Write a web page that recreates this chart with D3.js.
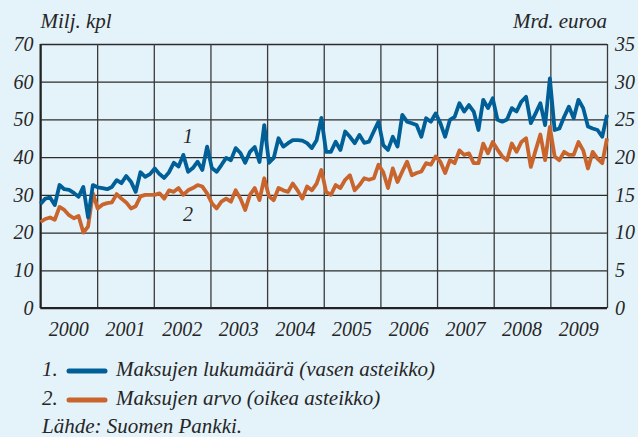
<!DOCTYPE html>
<html>
<head>
<meta charset="utf-8">
<script src="https://cdn.jsdelivr.net/npm/d3@7"></script>
<style>
  html, body { margin: 0; padding: 0; background: #e4f2fa; }
  svg { display: block; }
  text { font-family: "Liberation Serif", "DejaVu Serif", serif; font-style: italic; fill: #262626; }
</style>
</head>
<body>
<div id="chart"></div>
<script>
// Years on the x axis (monthly data, Jan 2000 - Dec 2009)
const years = [2000, 2001, 2002, 2003, 2004, 2005, 2006, 2007, 2008, 2009];
const leftTicks = [0, 10, 20, 30, 40, 50, 60, 70];
const rightTicks = [0, 5, 10, 15, 20, 25, 30, 35];

// 1. Maksujen lukumäärä, milj. kpl (left scale)
const paymentCount = [
  27.6, 29.0, 29.3, 27.3, 32.6, 31.5, 31.3, 30.5, 29.5, 32.1, 24.0, 32.6,
  32.0, 31.8, 31.5, 32.1, 33.9, 33.1, 35.0, 33.5, 30.8, 36.0, 34.8, 35.5,
  37.0, 35.5, 34.5, 36.0, 38.5, 37.5, 40.6, 36.1, 37.1, 38.8, 36.6, 42.8,
  37.1, 36.1, 37.9, 39.8, 39.2, 42.4, 41.1, 38.5, 41.4, 42.7, 38.7, 48.5,
  38.5, 39.8, 45.0, 42.8, 43.7, 44.5, 44.5, 44.4, 43.7, 42.4, 44.5, 50.4,
  41.4, 41.4, 44.1, 41.9, 46.8, 45.4, 43.7, 45.9, 43.8, 44.1, 46.8, 49.4,
  43.2, 41.9, 45.4, 42.8, 51.2, 49.4, 49.0, 48.5, 45.4, 50.3, 49.4, 51.6,
  49.0, 45.4, 49.9, 50.7, 54.3, 52.1, 53.8, 52.1, 47.2, 55.2, 53.0, 55.6,
  49.9, 49.4, 50.0, 53.0, 52.1, 54.7, 56.0, 49.0, 51.6, 54.3, 48.5, 60.9,
  47.2, 47.6, 50.7, 53.4, 50.3, 55.2, 53.0, 48.1, 47.6, 47.2, 45.4, 51.2
];

// 2. Maksujen arvo, mrd. euroa (right scale)
const paymentValue = [
  11.4, 11.8, 12.0, 11.7, 13.4, 13.0, 12.3, 11.9, 12.2, 10.0, 10.8, 15.2,
  13.2, 13.7, 13.9, 14.0, 15.1, 14.5, 14.0, 13.2, 13.5, 14.8, 15.0, 15.0,
  15.0, 15.2, 14.5, 15.6, 15.4, 15.9, 15.0, 15.6, 15.9, 16.3, 16.1, 15.2,
  13.9, 13.2, 14.1, 14.5, 14.1, 15.6, 14.5, 13.0, 15.0, 15.9, 14.3, 17.2,
  14.8, 14.3, 15.9, 15.6, 15.4, 16.5, 15.6, 14.5, 16.1, 15.6, 16.5, 18.3,
  15.4, 15.0, 16.3, 15.9, 17.0, 17.6, 15.6, 16.3, 17.2, 17.0, 17.2, 19.0,
  18.0, 15.9, 18.5, 16.7, 18.1, 19.4, 17.6, 17.9, 18.1, 19.2, 19.0, 20.1,
  19.4, 17.9, 19.6, 19.2, 20.9, 20.3, 20.5, 19.2, 19.2, 21.8, 20.5, 22.0,
  21.0, 20.1, 19.6, 21.8, 20.7, 22.0, 22.5, 18.7, 20.9, 23.0, 19.6, 24.0,
  20.1, 19.6, 20.7, 20.3, 20.3, 22.0, 20.9, 18.5, 20.7, 19.8, 19.2, 22.5
];

const legendLabels = [
  "Maksujen lukumäärä (vasen asteikko)",
  "Maksujen arvo (oikea asteikko)"
];

const BLUE = "#005f97";
const ORANGE = "#c9652c";

const width = 638, height = 437;
const margin = { top: 44, right: 31, bottom: 129, left: 40.5 };
const x0 = margin.left, x1 = width - margin.right;
const yTop = margin.top, yBottom = height - margin.bottom;

const svg = d3.select("#chart").append("svg")
  .attr("width", width)
  .attr("height", height);

svg.append("rect")
  .attr("width", width).attr("height", height)
  .attr("fill", "#e4f2fa");

// month keys, one per data point
const monthKeys = years.flatMap(y => d3.range(12).map(m => `${y}-${m + 1}`));

const x = d3.scalePoint().domain(monthKeys).range([x0, x1]);
const xYear = d3.scaleLinear().domain([years[0], years[years.length - 1] + 1]).range([x0, x1]);
const yLeft = d3.scaleLinear().domain([0, 70]).range([yBottom, yTop]);
const yRight = d3.scaleLinear().domain([0, 35]).range([yBottom, yTop]);

// Horizontal grid
svg.append("g")
  .attr("class", "grid-h")
  .attr("transform", `translate(${x0},0)`)
  .call(d3.axisLeft(yLeft).tickValues(leftTicks).tickSize(-(x1 - x0)).tickFormat(""))
  .call(g => g.select(".domain").remove())
  .call(g => g.selectAll("line").attr("stroke", "#2b2b2b").attr("stroke-width", 1.3));

// Vertical year grid
const yearEdges = d3.range(years[0], years[years.length - 1] + 2);
svg.append("g")
  .attr("class", "grid-v")
  .attr("transform", `translate(0,${yBottom})`)
  .call(d3.axisBottom(xYear).tickValues(yearEdges).tickSize(-(yBottom - yTop)).tickFormat(""))
  .call(g => g.select(".domain").remove())
  .call(g => g.selectAll("line").attr("stroke", "#3a3a3a").attr("stroke-width", 1.3));

// Frame: left and bottom slightly heavier
svg.append("line")
  .attr("x1", x0).attr("x2", x0).attr("y1", yTop).attr("y2", yBottom)
  .attr("stroke", "#222").attr("stroke-width", 2);
svg.append("line")
  .attr("x1", x0).attr("x2", x1).attr("y1", yBottom).attr("y2", yBottom)
  .attr("stroke", "#222").attr("stroke-width", 2);

// Left tick labels
svg.append("g")
  .attr("transform", `translate(${x0 - 7},0)`)
  .call(d3.axisLeft(yLeft).tickValues(leftTicks).tickSize(0).tickPadding(0))
  .call(g => g.select(".domain").remove())
  .call(g => g.selectAll("text")
    .attr("font-family", "Liberation Serif, serif")
    .attr("font-style", "italic")
    .attr("font-size", 20)
    .attr("fill", "#2a2a2a"));

// Right tick labels
svg.append("g")
  .attr("transform", `translate(${x1 + 8},0)`)
  .call(d3.axisRight(yRight).tickValues(rightTicks).tickSize(0).tickPadding(0))
  .call(g => g.select(".domain").remove())
  .call(g => g.selectAll("text")
    .attr("font-family", "Liberation Serif, serif")
    .attr("font-style", "italic")
    .attr("font-size", 20)
    .attr("fill", "#2a2a2a"));

// Year labels centred in each year
svg.append("g")
  .selectAll("text")
  .data(years)
  .join("text")
  .attr("x", d => (xYear(d) + xYear(d + 1)) / 2)
  .attr("y", yBottom + 28)
  .attr("text-anchor", "middle")
  .attr("font-size", 20)
  .text(d => d);

// Unit labels
svg.append("text").attr("x", x0).attr("y", 28).attr("font-size", 21).text("Milj. kpl");
svg.append("text").attr("x", x1).attr("y", 28).attr("text-anchor", "end").attr("font-size", 21).text("Mrd. euroa");

// Lines
const lineLeft = d3.line().x((d, i) => x(monthKeys[i])).y(d => yLeft(d));
const lineRight = d3.line().x((d, i) => x(monthKeys[i])).y(d => yRight(d));

svg.append("path")
  .datum(paymentValue)
  .attr("fill", "none")
  .attr("stroke", ORANGE)
  .attr("stroke-width", 3.8)
  .attr("stroke-linejoin", "round")
  .attr("d", lineRight);

svg.append("path")
  .datum(paymentCount)
  .attr("fill", "none")
  .attr("stroke", BLUE)
  .attr("stroke-width", 3.8)
  .attr("stroke-linejoin", "round")
  .attr("d", lineLeft);

// Series numbers on the chart
svg.append("text").attr("x", 188).attr("y", 143).attr("text-anchor", "middle").attr("font-size", 20).text("1");
svg.append("text").attr("x", 188).attr("y", 221).attr("text-anchor", "middle").attr("font-size", 20).text("2");

// Legend
const legend = svg.append("g");
[BLUE, ORANGE].forEach((c, i) => {
  const yy = 376 + i * 29;
  legend.append("text").attr("x", 42).attr("y", yy).attr("font-size", 21).text(`${i + 1}.`);
  legend.append("line")
    .attr("x1", 69).attr("x2", 105).attr("y1", yy - 5).attr("y2", yy - 5)
    .attr("stroke", c).attr("stroke-width", 5).attr("stroke-linecap", "round");
  legend.append("text").attr("x", 116).attr("y", yy).attr("font-size", 21).text(legendLabels[i]);
});
svg.append("text").attr("x", 42).attr("y", 433).attr("font-size", 21).text("Lähde: Suomen Pankki.");
</script>
</body>
</html>
